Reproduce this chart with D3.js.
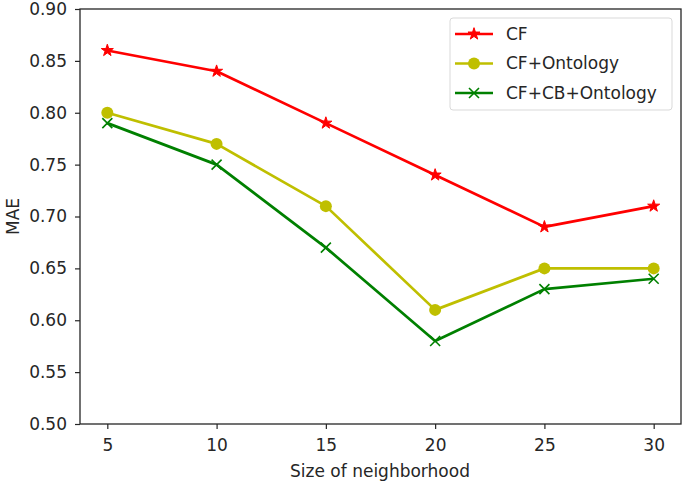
<!DOCTYPE html>
<html><head><meta charset="utf-8">
<script src="https://cdn.jsdelivr.net/npm/d3@7"></script>
<style>body{margin:0;background:#fff}svg{display:block}text{font-family:"DejaVu Sans",sans-serif;fill:#262626}</style>
</head><body><svg id="c" width="685" height="488"></svg>
<script>
const neighborhood = [5, 10, 15, 20, 25, 30];
const cf = [0.86, 0.84, 0.79, 0.74, 0.69, 0.71];
const cfOntology = [0.80, 0.77, 0.71, 0.61, 0.65, 0.65];
const cfCbOntology = [0.79, 0.75, 0.67, 0.58, 0.63, 0.64];
const yTicks = [0.50, 0.55, 0.60, 0.65, 0.70, 0.75, 0.80, 0.85, 0.90];
const seriesNames = ["CF", "CF+Ontology", "CF+CB+Ontology"];
const seriesColors = ["#ff0000", "#bfbf00", "#008000"];
const seriesMarkers = ["star", "circle", "x"];

const series = [cf, cfOntology, cfCbOntology].map((v, i) => ({name: seriesNames[i], values: v, color: seriesColors[i], marker: seriesMarkers[i]}));

const FS = "17px";
const svg = d3.select("#c");
const L = 80, R = 681, T = 9, B = 424;
const x = d3.scaleLinear().domain([3.75, 31.25]).range([L, R]);
const y = d3.scaleLinear().domain([0.5, 0.9]).range([B, T]);

// axes
const xa = svg.append("g").attr("transform", `translate(0,${B})`)
  .call(d3.axisBottom(x).tickValues(neighborhood).tickSize(5).tickPadding(10).tickFormat(d3.format("d")));
const ya = svg.append("g").attr("transform", `translate(${L},0)`)
  .call(d3.axisLeft(y).tickValues(yTicks).tickSize(5).tickPadding(8).tickFormat(d3.format(".2f")));
[xa, ya].forEach(a => {
  a.select(".domain").remove();
  a.selectAll("line").attr("stroke", "#262626").attr("stroke-width", 1.2);
  a.selectAll("text").style("font-size", FS).attr("fill", "#262626");
});
svg.append("rect").attr("x", L).attr("y", T).attr("width", R - L).attr("height", B - T)
  .attr("fill", "none").attr("stroke", "#262626").attr("stroke-width", 1.3);

svg.append("text").attr("x", 380).attr("y", 477).attr("text-anchor", "middle").style("font-size", FS).text("Size of neighborhood");
svg.append("text").attr("transform", `translate(19,${(T + B) / 2}) rotate(-90)`).attr("text-anchor", "middle").style("font-size", FS).text("MAE");

function drawMarker(g, type, cx, cy, color) {
  if (type === "star") {
    g.append("path").attr("d", d3.symbol(d3.symbolStar, 45)()).attr("transform", `translate(${cx},${cy})`).attr("fill", color).attr("stroke", color).attr("stroke-width", 1);
  } else if (type === "circle") {
    g.append("circle").attr("cx", cx).attr("cy", cy).attr("r", 6).attr("fill", color);
  } else {
    const s = 5;
    g.append("path").attr("d", `M${cx - s},${cy - s}L${cx + s},${cy + s}M${cx - s},${cy + s}L${cx + s},${cy - s}`).attr("stroke", color).attr("stroke-width", 1.6).attr("fill", "none");
  }
}

const line = d3.line().x((d, i) => x(neighborhood[i])).y(d => y(d));
series.forEach(s => {
  const g = svg.append("g");
  g.append("path").attr("d", line(s.values)).attr("fill", "none").attr("stroke", s.color).attr("stroke-width", 2.7).attr("stroke-linejoin", "round");
  s.values.forEach((v, i) => drawMarker(g, s.marker, x(neighborhood[i]), y(v), s.color));
});

// legend
const lg = svg.append("g");
lg.append("rect").attr("x", 450).attr("y", 18).attr("width", 222).attr("height", 92).attr("rx", 3)
  .attr("fill", "#fff").attr("fill-opacity", 0.8).attr("stroke", "#d9d9d9").attr("stroke-width", 1);
series.forEach((s, i) => {
  const cy = 34 + i * 29.5;
  lg.append("line").attr("x1", 455).attr("x2", 493).attr("y1", cy).attr("y2", cy).attr("stroke", s.color).attr("stroke-width", 2.7);
  drawMarker(lg, s.marker, 474, cy, s.color);
  lg.append("text").attr("x", 506).attr("y", cy).attr("dy", "0.35em").style("font-size", FS).text(s.name);
});
</script></body></html>
